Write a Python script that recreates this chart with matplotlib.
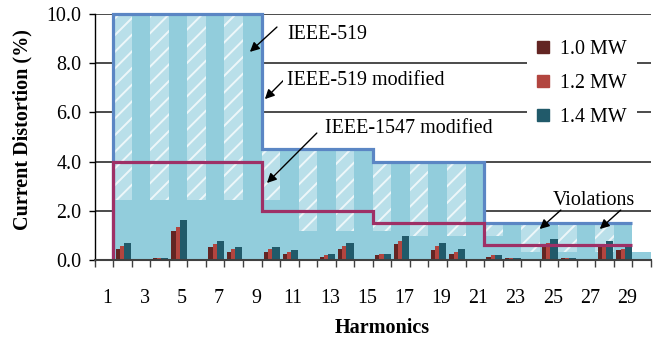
import numpy as np
import matplotlib
matplotlib.use('Agg')
import matplotlib.pyplot as plt
from matplotlib.patches import Patch

# harmonic order, 1..30 (fundamental and triplens carry no bars)
harmonics = list(range(1, 31))

mw_1_0 = [0, 0.45, 0, 0.08, 1.18, 0, 0.53, 0.33, 0, 0.33,
          0.24, 0, 0.12, 0.45, 0, 0.20, 0.65, 0, 0.41, 0.24,
          0, 0.12, 0.08, 0, 0.61, 0.08, 0, 0.61, 0.41, 0]
mw_1_2 = [0, 0.57, 0, 0.08, 1.34, 0, 0.65, 0.45, 0, 0.45,
          0.33, 0, 0.20, 0.57, 0, 0.24, 0.77, 0, 0.57, 0.33,
          0, 0.20, 0.08, 0, 0.69, 0.08, 0, 0.65, 0.45, 0]
mw_1_4 = [0, 0.69, 0, 0.07, 1.63, 0, 0.77, 0.53, 0, 0.53,
          0.41, 0, 0.24, 0.69, 0, 0.24, 0.98, 0, 0.69, 0.45,
          0, 0.20, 0.08, 0, 0.85, 0.08, 0, 0.77, 0.61, 0]

nan = np.nan
ieee519_mod = [nan] + [10.0]*8 + [4.5]*6 + [4.0]*6 + [1.5]*8 + [nan]
ieee519 = [nan] + [2.44]*9 + [1.19]*6 + [0.97]*6 + [0.34]*8
ieee1547_mod = [nan] + [4.0]*8 + [2.0]*6 + [1.5]*6 + [0.6]*8 + [nan]

series_names = ['1.0 MW', '1.2 MW', '1.4 MW']
bar_colors = ['#632523', '#B2453F', '#215A6A']

plt.rcParams['font.family'] = 'Liberation Serif'
plt.rcParams['hatch.linewidth'] = 1.4

fill_c = '#92CDDC'
hatch_c = '#B9DFE9'
blue_c = '#5B86C4'
red_c = '#9E3066'

fig = plt.figure(figsize=(6.57, 3.38), dpi=100)
ax = fig.add_axes([0.1441, 0.2308, 0.8467, 0.7278])

h = np.array(harmonics)
pos = h - 1

ax.grid(axis='y', color='#1a1a1a', lw=1.1, zorder=0)
ax.set_axisbelow(True)


def edges_of(p):
    return np.append(p - 0.5, p[-1] + 0.5)


# back layer: IEEE-519 modified envelope
env = np.array(ieee519_mod)
ok = ~np.isnan(env)
e_env = edges_of(pos[ok])
ax.stairs(env[ok], e_env, fill=True, color=fill_c, lw=0, zorder=1)

# hatched columns on even harmonics
sel = ok & (h % 2 == 0)
ax.bar(pos[sel], env[sel], width=1.0, color=hatch_c, edgecolor=(1, 1, 1, 0.75),
       lw=0, hatch='//', zorder=2)

# front layer
front = np.array(ieee519)
ok2 = ~np.isnan(front)
ax.stairs(front[ok2], edges_of(pos[ok2]), fill=True, color=fill_c, lw=0, zorder=3)

# bars
offs = [-0.37, -0.14, 0.08]
widths = [0.23, 0.22, 0.39]
for vals, c, o, w in zip([mw_1_0, mw_1_2, mw_1_4], bar_colors, offs, widths):
    ax.bar(pos + o, vals, width=w, align='edge', color=c, lw=0, zorder=4)


def step_line(values, p, color, z):
    v = np.array(values)
    m = ~np.isnan(v)
    e = edges_of(p[m])
    xs = np.repeat(e, 2)[:-1]
    ys = np.concatenate([[0], np.repeat(v[m], 2)])
    ax.plot(xs, ys, color=color, lw=2.3, solid_joinstyle='miter',
            solid_capstyle='butt', clip_on=False, zorder=z)


step_line(ieee519_mod, pos, blue_c, 5)
step_line(ieee1547_mod, pos, red_c, 6)

ax.set_xlim(-0.5, 29.5)
ax.set_ylim(0, 10)

for s in ['top', 'right']:
    ax.spines[s].set_visible(False)
ax.spines['left'].set_color('black')
ax.spines['left'].set_linewidth(1.0)
ax.spines['bottom'].set_color('#404040')
ax.spines['bottom'].set_linewidth(1.5)
ax.spines['bottom'].set_zorder(8)

ax.set_yticks(np.arange(0, 11, 2))
ax.set_yticklabels(['%.1f' % v for v in np.arange(0, 11, 2)])
ax.tick_params(axis='y', direction='out', length=4.5, width=1, labelsize=14.4, pad=5)

odd = h[h % 2 == 1]
ax.set_xticks(odd - 1 + 0.2)
ax.set_xticklabels([str(v) for v in odd])
ax.tick_params(axis='x', which='major', length=0, labelsize=14.4, pad=21)
ax.set_xticks(np.arange(-0.5, 30), minor=True)
ax.tick_params(axis='x', which='minor', direction='out', length=5, width=1, color='#404040')

handles = [Patch(color=c) for c in bar_colors]
leg = ax.legend(handles, series_names, loc='upper left',
                bbox_to_anchor=(527 / 657, 1 - 30 / 338), bbox_transform=fig.transFigure,
                frameon=True, facecolor='white', edgecolor='none', framealpha=1,
                fancybox=False, fontsize=14.4, handlelength=0.6, handleheight=0.6,
                handletextpad=0.55, labelspacing=0.75, borderpad=0.5, borderaxespad=0)
leg.set_zorder(10)

arrow = dict(arrowstyle='-|>', color='black', lw=1.0, mutation_scale=14, shrinkA=0, shrinkB=0)

ax.annotate('', xy=(7.87, 8.46), xytext=(9.33, 9.47), arrowprops=arrow, zorder=9)
ax.text(9.87, 8.97, 'IEEE-519', fontsize=14.4, va='baseline', ha='left', zorder=9)

ax.annotate('', xy=(8.68, 6.54), xytext=(9.76, 7.36), arrowprops=arrow, zorder=9)
ax.text(9.87, 7.11, 'IEEE-519 modified', fontsize=14.4, va='baseline', ha='left', zorder=9,
        bbox=dict(facecolor='white', edgecolor='none', pad=3))

ax.annotate('', xy=(8.79, 3.13), xytext=(11.48, 5.16), arrowprops=arrow, zorder=9)
ax.text(11.91, 5.15, 'IEEE-1547 modified', fontsize=14.4, va='baseline', ha='left', zorder=9)

ax.text(26.42, 2.24, 'Violations', fontsize=14.4, va='baseline', ha='center', zorder=9)
ax.annotate('', xy=(23.5, 1.26), xytext=(24.64, 2.03), arrowprops=arrow, zorder=9)
ax.annotate('', xy=(26.74, 1.26), xytext=(27.87, 2.03), arrowprops=arrow, zorder=9)

fig.text(22 / 657, 1 - 130 / 338, 'Current Distortion (%)', rotation=90, ha='center',
         va='center', fontweight='bold', fontsize=14.5)
fig.text(382 / 657, 1 - 333 / 338, 'Harmonics', ha='center', va='baseline',
         fontweight='bold', fontsize=14.5)

fig.savefig('out.png', dpi=100)
